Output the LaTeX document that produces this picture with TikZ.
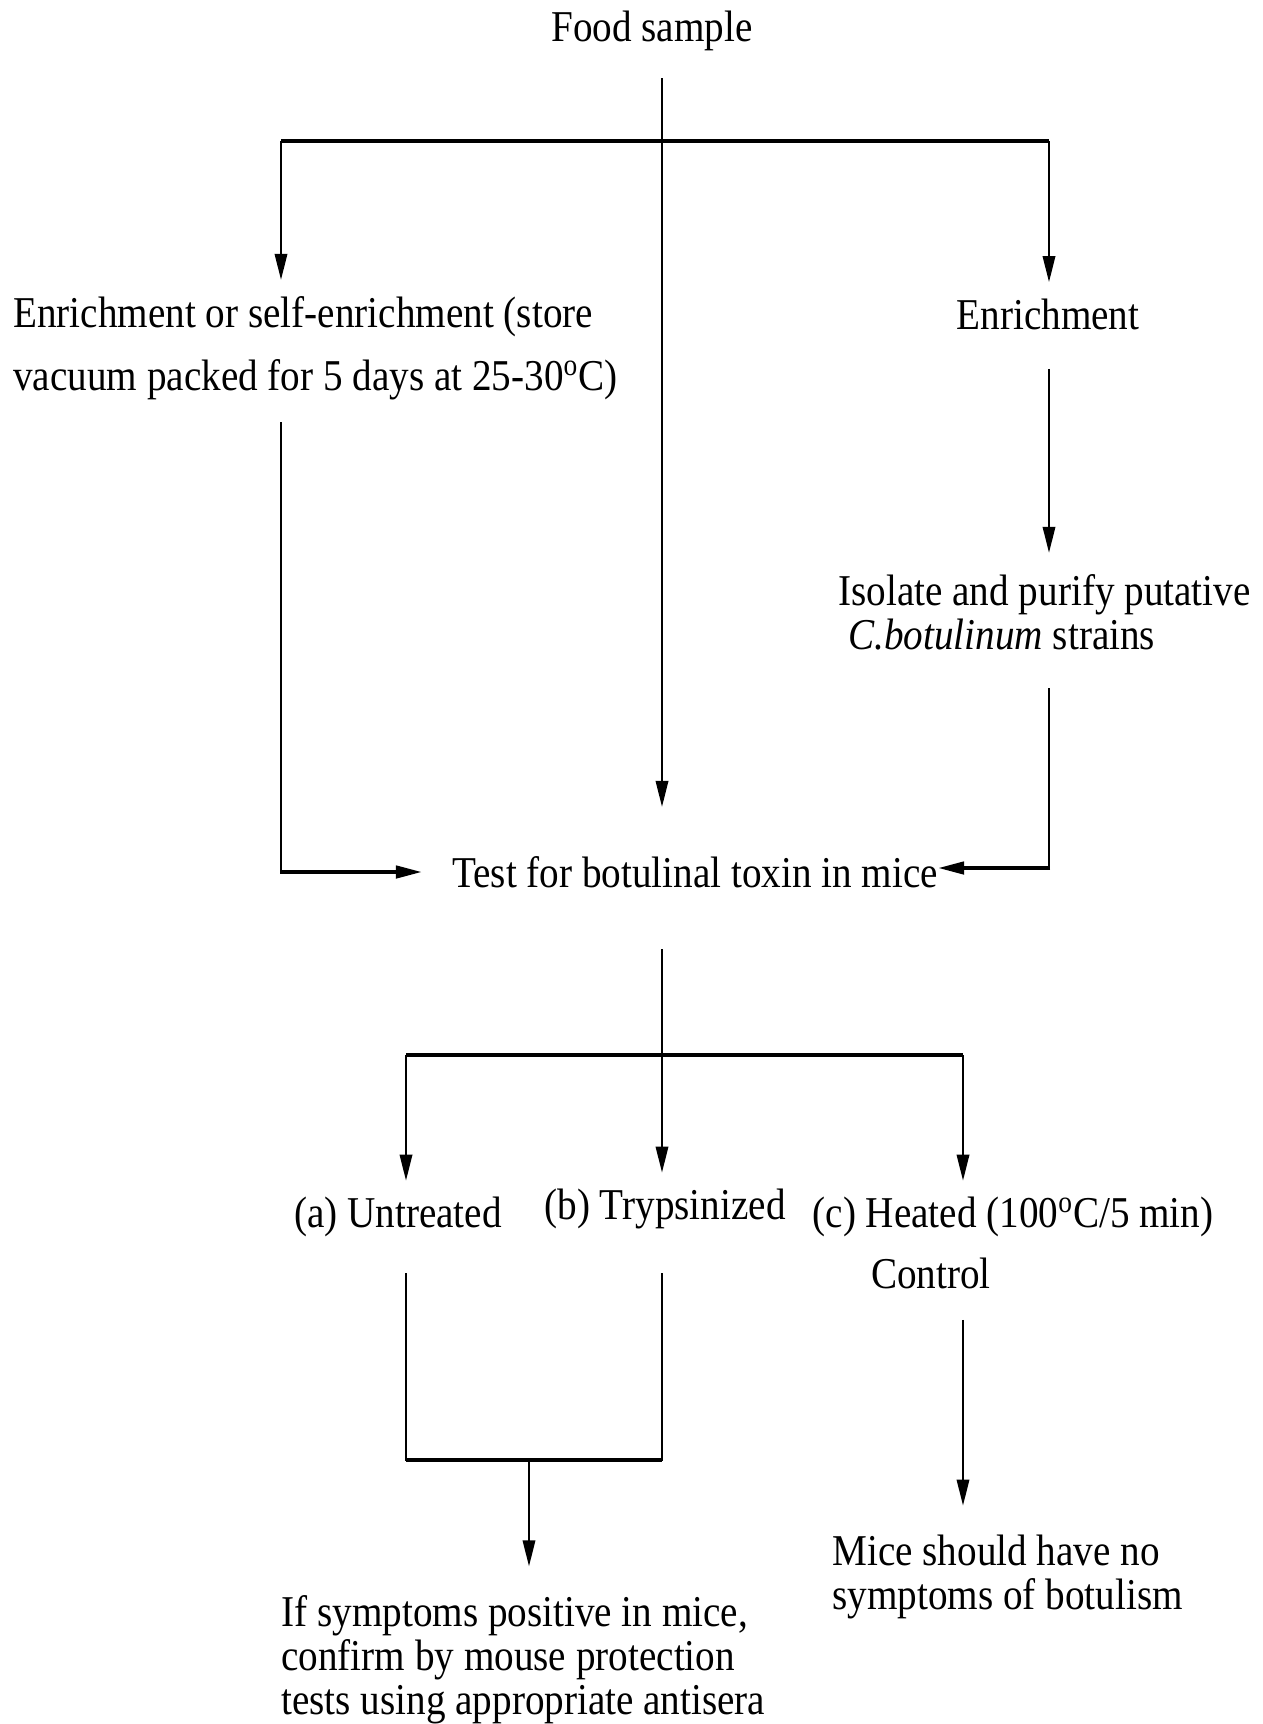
\documentclass[tikz,border=0pt]{standalone}
\usepackage{fontspec}
\setmainfont{Liberation Serif}[FakeStretch=0.89]
\usetikzlibrary{arrows.meta,positioning}

\begin{document}
\begin{tikzpicture}[
  x=0.5pt, y=-0.5pt,
  >={Triangle[length=13pt,width=6.2pt]},
  txt/.style={inner sep=0pt, align=left, font=\fontsize{22}{22}\selectfont},
  line/.style={line width=1.1pt},
  bar/.style={line width=1.8pt},
]
\useasboundingbox (0,0) rectangle (1263,1724);
% columns of the connectors, rows of the forks
\coordinate (colL) at (281,0);
\coordinate (colM) at (662,0);
\coordinate (colR) at (1049,0);
\coordinate (colA) at (406,0);
\coordinate (colJ) at (529,0);
\coordinate (colC) at (963,0);
\coordinate (fork1) at (0,141);
\coordinate (fork2) at (0,1055);
\coordinate (join)  at (0,1460);

\node[txt]                 (food)      at (652,31)   {Food sample};
\node[txt,anchor=west,font=\fontsize{22}{31.5}\selectfont]
                           (enrichA)   at (13,348)   {Enrichment or self-enrichment (store\\vacuum packed for 5 days at 25-30\textsuperscript{o}C)};
\node[txt]                 (enrichB)   at (1048,314) {Enrichment};
\node[txt,anchor=west]     (isolate)   at (838,612)  {Isolate and purify putative\\\hspace*{5pt}\textit{C.botulinum} strains};
\node[txt]                 (test)      at (695,872)  {Test for botulinal toxin in mice};
\node[txt]                 (untreated) at (398,1217) {(a) Untreated};
\node[txt]                 (tryps)     at (665,1209) {(b) Trypsinized};
\node[txt]                 (heated)    at (1013,1217) {(c) Heated (100\textsuperscript{o}C/5 min)};
\node[txt]                 (control)   at (931,1273) {Control};
\node[txt,anchor=west]     (confirm)   at (281,1660) {If symptoms positive in mice,\\confirm by mouse protection\\tests using appropriate antisera};
\node[txt,anchor=west]     (nosym)     at (832,1577) {Mice should have no\\symptoms of botulism};

% first fork
\draw[line,->,shorten <=13.5pt,shorten >=24.5pt] (colM |- food.south) -- (colM |- test.north);
\draw[bar] (colL |- fork1) -- (colR |- fork1);
\foreach \c/\n in {colL/enrichA,colR/enrichB}
  \draw[line,->,shorten >=8pt] (\c |- fork1) -- (\c |- \n.north);
\draw[line,->,shorten <=19.5pt,shorten >=10.5pt] (colR |- enrichB.south) -- (colR |- isolate.north);
% side branches into the mouse test
\draw[line,shorten <=11pt] (colL |- enrichA.south) -- (colL |- test.west);
\draw[bar,->,shorten >=15pt] ([xshift=-0.5pt]colL |- test.west) -- (test.west);
\draw[line,shorten <=19pt] (colR |- isolate.south) -- ([yshift=2pt]colR |- test.east);
\draw[bar,->] ([xshift=0.5pt,yshift=2pt]colR |- test.east) -- ([yshift=2pt]test.east);
% second fork
\draw[line,->,shorten <=30.5pt,shorten >=8pt] (colM |- test.south) -- (colM |- tryps.north);
\draw[bar] (colA |- fork2) -- (colC |- fork2);
\foreach \c/\n in {colA/untreated,colC/heated}
  \draw[line,->,shorten >=8pt] (\c |- fork2) -- (\c |- \n.north);
% (a) and (b) joined
\draw[line] ([yshift=-18pt]colA |- untreated.south) -- (colA |- join) -- (colM |- join) -- ([yshift=-22pt]colM |- tryps.south);
\draw[bar] (colA |- join) -- (colM |- join);
\draw[line,->,shorten >=14.5pt] (colJ |- join) -- (colJ |- confirm.north);
\draw[line,->,shorten <=15.5pt,shorten >=14.5pt] (colC |- control.south) -- (colC |- nosym.north);
\end{tikzpicture}
\end{document}
